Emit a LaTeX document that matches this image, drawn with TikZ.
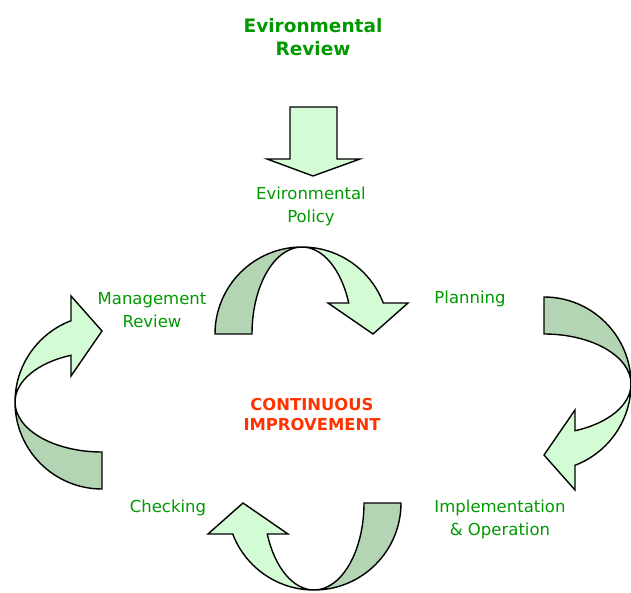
\documentclass[tikz,border=0pt]{standalone}
\usepackage{fontspec}
\setmainfont{DejaVu Sans}
\definecolor{frontgreen}{HTML}{D4FCD4}
\definecolor{backgreen}{HTML}{B3D5B3}
\definecolor{labelgreen}{HTML}{009900}
\definecolor{labelred}{HTML}{FF3300}
\tikzset{
  ribbon/.pic={
    \filldraw[fill=backgreen] (-87,-87) arc[start angle=180,end angle=90,radius=87]
      arc[start angle=90,end angle=180,x radius=50,y radius=87] -- cycle;
    \filldraw[fill=frontgreen] (0,0) arc[start angle=90,end angle=20.9,radius=87]
      -- (106,-56) -- (71,-87) -- (26,-56) -- (46.7,-56)
      arc[start angle=20.9,end angle=90,x radius=50,y radius=87] -- cycle;
  }
}
\begin{document}
\begin{tikzpicture}[x=1pt,y=1pt,line join=miter,line width=1.4pt,
  stage/.style={text=labelgreen,align=center,font=\fontsize{16.5}{23}\selectfont},
  title/.style={text=labelgreen,align=center,font=\bfseries\fontsize{18.5}{23}\selectfont},
  goal/.style={text=labelred,align=center,font=\bfseries\fontsize{16.4}{20}\selectfont}]
\useasboundingbox (0,0) rectangle (631,592);
\node[title] (review) at (313,555) {Evironmental\\Review};
\filldraw[fill=frontgreen] (290,485) -- (337,485) -- (337,433) -- (360,433)
  -- (313,416) -- (267,433) -- (290,433) -- cycle;
\node[stage] (policy) at (311,385.5) {Evironmental\\Policy};
\pic (toparrow) at (302,345) {ribbon};
\pic[rotate=-90] (rightarrow) at (631,208) {ribbon};
\pic[rotate=180] (bottomarrow) at (314,2) {ribbon};
\pic[rotate=90] (leftarrow) at (15,190) {ribbon};
\node[stage] (mreview) at (152,282) {Management\\Review};
\node[stage] (planning) at (470,293) {Planning};
\node[goal] (improve) at (312,177) {CONTINUOUS\\IMPROVEMENT};
\node[stage] (checking) at (168,84) {Checking};
\node[stage] (implement) at (500,72.5) {Implementation\\\& Operation};
\end{tikzpicture}
\end{document}
